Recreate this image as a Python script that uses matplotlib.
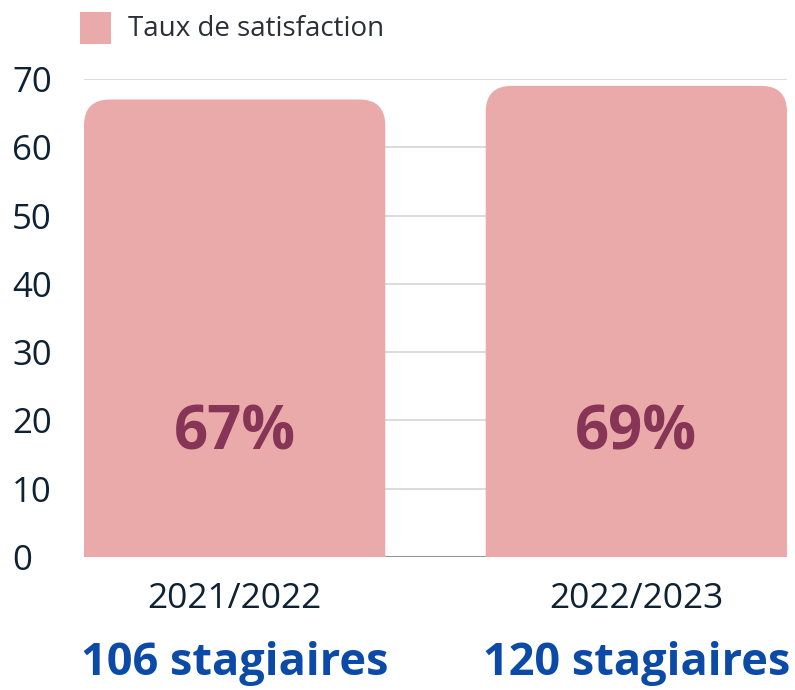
import matplotlib
matplotlib.use("Agg")
import matplotlib.pyplot as plt
from matplotlib.patches import FancyBboxPatch, Rectangle
from matplotlib.transforms import blended_transform_factory

categories = ["2021/2022", "2022/2023"]
values = [67, 69]
value_labels = ["67%", "69%"]
counts = ["106 stagiaires", "120 stagiaires"]
legend_label = "Taux de satisfaction"
yticks = [0, 10, 20, 30, 40, 50, 60, 70]

BAR = "#eaaaaa"
TXT = "#0f2233"
MAROON = "#873556"
BLUE = "#0b4aa6"
FONT = "Open Sans"

plt.rcParams["font.family"] = [FONT, "DejaVu Sans"]

fig = plt.figure(figsize=(7.95, 6.9), dpi=100)
ax = fig.add_axes([84 / 795, 1 - 557 / 690, (787 - 84) / 795, (557 - 79) / 690])
ax.set_xlim(-0.375, 1.375)
ax.set_ylim(0, 70)

width = 0.75
px_x = (787 - 84) / 1.75
px_y = (557 - 79) / 70
r_px = 26
r_x = r_px / px_x
aspect = (1 / px_y) / (1 / px_x)
ext = 2 * r_px / px_y  # extend below zero so rounded bottom corners are clipped

for i, v in enumerate(values):
    left = i - width / 2
    p = FancyBboxPatch((left, -ext), width, v + ext,
                       boxstyle=f"round,pad=0,rounding_size={r_x}",
                       mutation_aspect=aspect, facecolor=BAR, edgecolor="none",
                       linewidth=0, zorder=2)
    ax.add_patch(p)
    ax.text(i, 18.0, value_labels[i], ha="center", va="center", fontsize=43,
            fontweight="bold", color=MAROON, zorder=3)

ax.set_yticks(yticks)
ax.yaxis.grid(True, color="#d3d6da", linewidth=1.2, zorder=0)
ax.set_axisbelow(True)
ax.axhline(0, color="#8d969c", linewidth=1.5, zorder=1)
ax.set_xticks([])
for s in ax.spines.values():
    s.set_visible(False)
ax.tick_params(axis="y", length=0, labelsize=25, labelcolor=TXT, pad=(84 - 12) * 0.72)
for lab in ax.get_yticklabels():
    lab.set_horizontalalignment("left")
    lab.set_fontweight("medium")

trans = blended_transform_factory(ax.transData, fig.transFigure)
for i, (c, n) in enumerate(zip(categories, counts)):
    ax.text(i, 1 - 599 / 690, c, transform=trans, ha="center", va="center",
            fontsize=25.5, color=TXT)
    ax.text(i, 1 - 664 / 690, n, transform=trans, ha="center", va="center",
            fontsize=32.5, fontweight="bold", color=BLUE)

# legend
fig.patches.append(Rectangle((80 / 795, 1 - 44 / 690), 31 / 795, 32 / 690,
                             transform=fig.transFigure, facecolor=BAR, edgecolor="none"))
fig.text(128 / 795, 1 - 29 / 690, legend_label, ha="left", va="center",
         fontsize=20, color="#2a2f38")

fig.savefig("out.png", dpi=100)
